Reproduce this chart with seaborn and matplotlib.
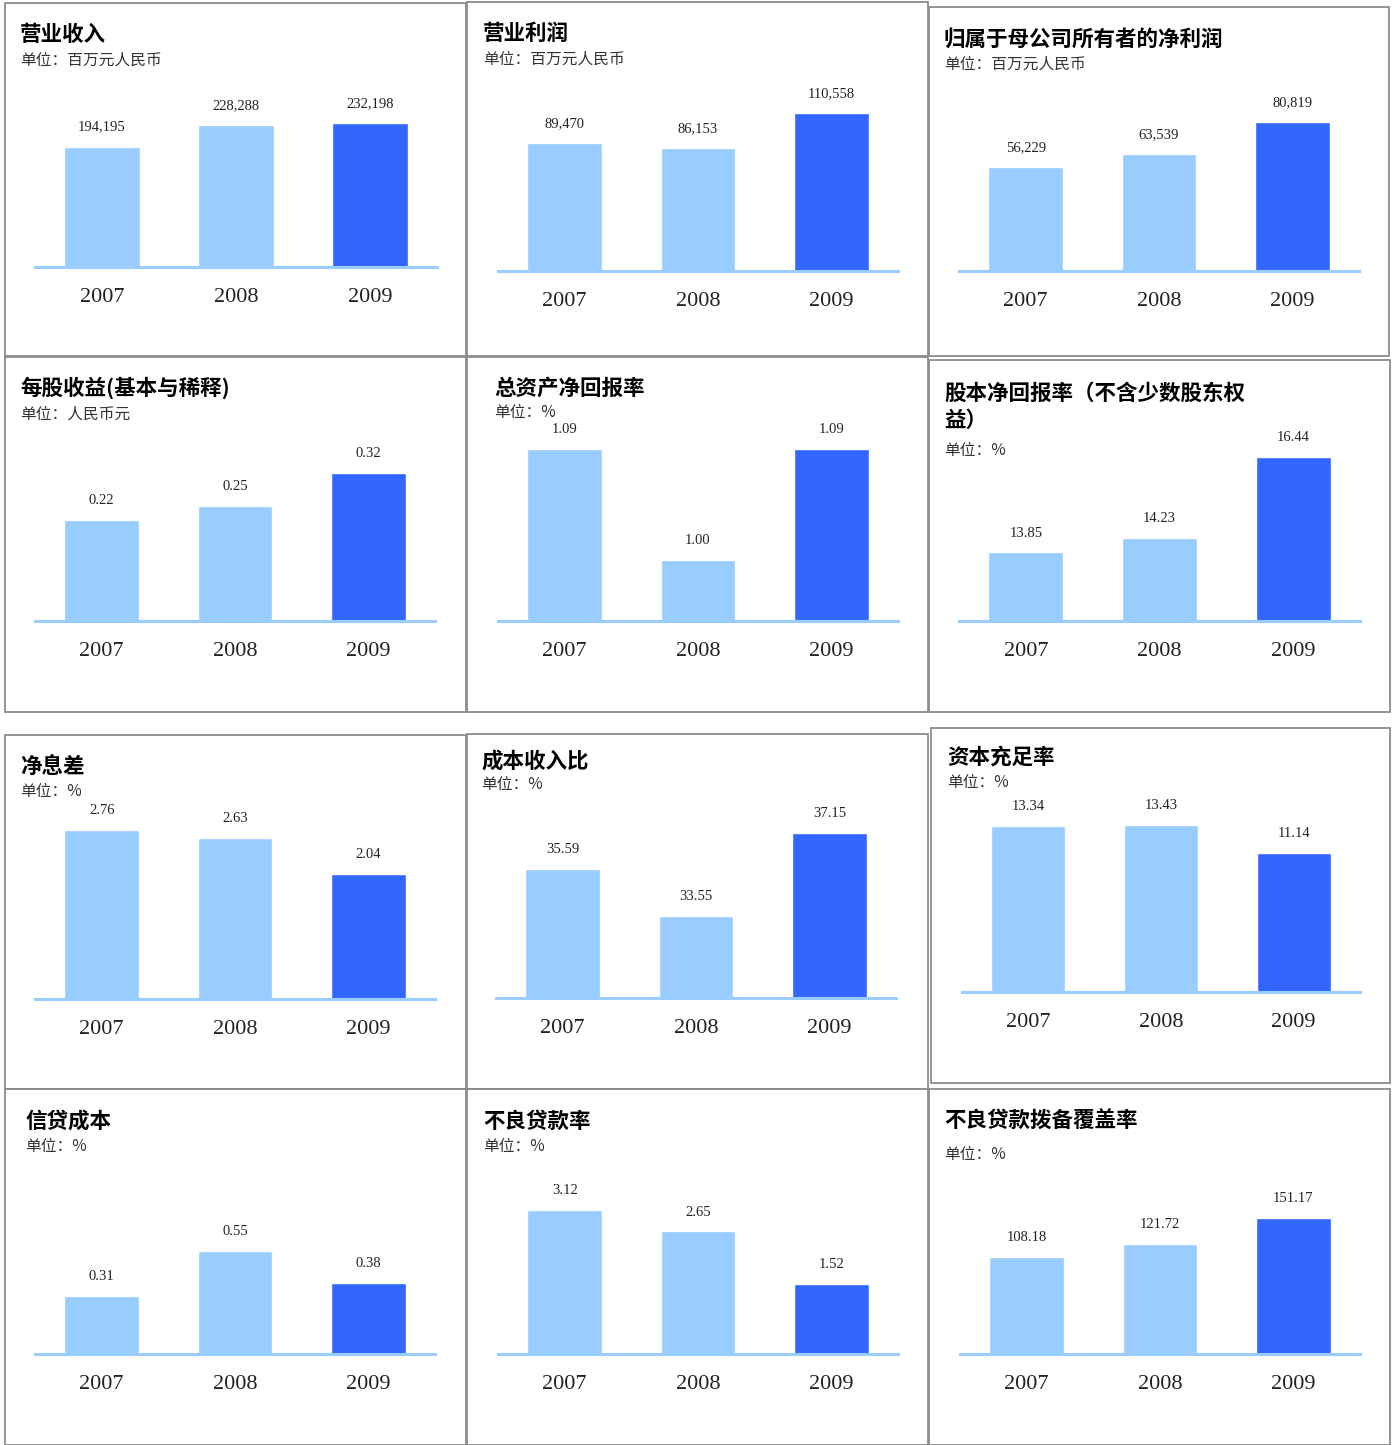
import matplotlib
matplotlib.use("Agg")
import matplotlib.pyplot as plt
import seaborn as sns
import pandas as pd

# DATA
years = ["2007", "2008", "2009"]
revenue = [194195, 228288, 232198]
op_profit = [89470, 86153, 110558]
net_profit = [56229, 63539, 80819]
eps = [0.22, 0.25, 0.32]
roa = [1.09, 1.00, 1.09]
roe = [13.85, 14.23, 16.44]
nim = [2.76, 2.63, 2.04]
cost_income = [35.59, 33.55, 37.15]
car = [13.34, 13.43, 11.14]
credit_cost = [0.31, 0.55, 0.38]
npl = [3.12, 2.65, 1.52]
coverage = [108.18, 121.72, 151.17]

titles = ["营业收入", "营业利润", "归属于母公司所有者的净利润",
          "每股收益(基本与稀释)", "总资产净回报率", "股本净回报率（不含少数股东权\n益）",
          "净息差", "成本收入比", "资本充足率",
          "信贷成本", "不良贷款率", "不良贷款拨备覆盖率"]
units = ["单位：百万元人民币", "单位：百万元人民币", "单位：百万元人民币",
         "单位：人民币元", "单位：%", "单位：%",
         "单位：%", "单位：%", "单位：%",
         "单位：%", "单位：%", "单位：%"]
series = [revenue, op_profit, net_profit, eps, roa, roe,
          nim, cost_income, car, credit_cost, npl, coverage]
fmts = ["{:,.0f}"] * 3 + ["{:.2f}"] * 9

# axis ranges (some panels do not start at zero)
y_ranges = [(0, 306375), (0, 132960), (0, 103060),
            (0, 0.412), (0.9505, 1.1046), (12.0, 17.13),
            (0, 3.10), (30, 38.24), (0, 15.25),
            (0, 1.016), (0, 4.11), (0, 211)]

# LAYOUT (pixels)
W, H = 1394, 1445
boxes = [(5, 3, 466, 356), (467, 2, 928, 356), (929, 7, 1389, 356),
         (5, 357, 466, 712), (467, 357, 928, 712), (929, 360, 1390, 712),
         (5, 735, 466, 1089), (467, 734, 928, 1089), (931, 728, 1390, 1083),
         (5, 1089, 466, 1445), (467, 1089, 928, 1445), (929, 1089, 1390, 1445)]
# baseline y, axis left, axis right
axes_pos = [(267, 35, 437), (271, 498, 898), (271, 959, 1359),
            (621, 35, 435), (621, 498, 898), (621, 959, 1360),
            (999, 35, 435), (998, 496, 896), (992, 962, 1360),
            (1354, 35, 435), (1354, 498, 898), (1354, 960, 1360)]
# title x, title y, unit y
title_pos = [(20, 34, 60), (483, 33, 59), (944, 39, 64),
             (20, 388, 414), (494, 388, 413), (944, 407, 450),
             (20, 766, 792), (481, 761, 785), (947, 757, 782),
             (25, 1121, 1147), (483, 1121, 1147), (944, 1121, 1154)]
AX_H = 190

light = "#99CCFF"
dark = "#3366FF"
palette = dict(zip(years, [light, light, dark]))

sns.set_style("white")
plt.rcParams["font.family"] = ["Noto Sans CJK SC", "DejaVu Sans"]

fig = plt.figure(figsize=(W / 100, H / 100), dpi=100)

for i in range(12):
    x0, y0, x1, y1 = boxes[i]
    fig.add_artist(plt.Rectangle((x0 / W, 1 - y1 / H), (x1 - x0) / W, (y1 - y0) / H,
                                 transform=fig.transFigure, fill=False,
                                 edgecolor="#8c8c8c", linewidth=1.3))

    base, ax_l, ax_r = axes_pos[i]
    ax = fig.add_axes([ax_l / W, 1 - base / H, (ax_r - ax_l) / W, AX_H / H])
    ax.patch.set_alpha(0)
    df = pd.DataFrame({"year": years, "value": series[i]})
    sns.barplot(data=df, x="year", y="value", hue="year", palette=palette,
                width=0.56, legend=False, saturation=1, ax=ax)
    ax.set_xlim(-0.5, 2.5)
    ax.set_ylim(*y_ranges[i])
    ax.set_xlabel("")
    ax.set_ylabel("")
    ax.set_yticks([])
    for s in ["top", "left", "right"]:
        ax.spines[s].set_visible(False)
    ax.spines["bottom"].set_color(light)
    ax.spines["bottom"].set_linewidth(2.2)
    ax.spines["bottom"].set_zorder(5)
    ax.tick_params(axis="x", length=0, pad=15)
    for lab in ax.get_xticklabels():
        lab.set_fontfamily("Liberation Serif")
        lab.set_fontsize(16)
        lab.set_color("#222222")

    for j, v in enumerate(series[i]):
        ax.annotate(fmts[i].format(v), (j, v), xytext=(0, 14), textcoords="offset points",
                    ha="center", va="center", fontsize=10.5,
                    family="Liberation Serif", color="#222222", annotation_clip=False)

    tx, ty, uy = title_pos[i]
    fig.text(tx / W, 1 - ty / H, titles[i], fontsize=15.5, fontweight="bold",
             ha="left", va="center", color="black", linespacing=1.35)
    fig.text(tx / W, 1 - uy / H, units[i], fontsize=11.3, ha="left", va="center",
             color="#333333")

fig.savefig("out.png", dpi=100)
